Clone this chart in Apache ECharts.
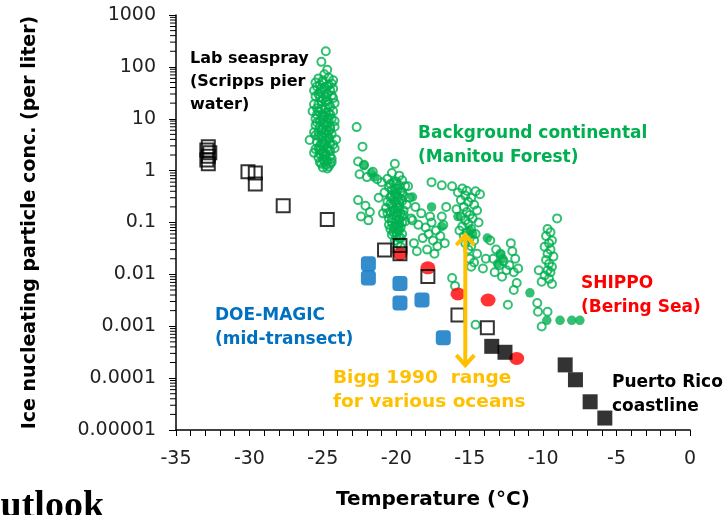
<!DOCTYPE html>
<html><head><meta charset="utf-8">
<script src="https://cdn.jsdelivr.net/npm/echarts@6/dist/echarts.min.js"></script>
<style>html,body{margin:0;padding:0;background:#fff}#c{width:728px;height:515px}</style>
</head><body><div id="c"></div>
<script>
// ---- data ----
const yTickLabels = ['0.00001','0.0001','0.001','0.01','0.1','1','10','100','1000'];
const xTickValues = [-35,-30,-25,-20,-15,-10,-5,0];

// Lab seaspray / open squares
const openSquares = [
  [-32.8,2.9],[-32.9,2.5],[-32.7,2.2],[-32.8,1.9],[-32.9,1.6],[-32.8,1.35],
  [-30.1,0.95],[-29.6,0.9],[-29.6,0.55],[-27.7,0.21],[-24.7,0.114],
  [-20.8,0.0295],[-19.75,0.036],[-19.75,0.025],[-17.85,0.0091],[-15.8,0.00165],[-13.8,0.00094]
];
// Puerto Rico coastline / filled black squares
const filledSquares = [
  [-13.5,0.00041],[-12.6,0.000315],
  [-8.5,0.00018],[-7.8,0.000093],[-6.8,0.000035],[-5.8,0.000017]
];
// DOE-MAGIC (blue)
const doeMagic = [
  [-21.9,0.016],[-21.9,0.0085],[-19.75,0.0067],[-19.75,0.0028],[-18.25,0.0032],[-16.8,0.0006]
];
// SHIPPO (red)
const shippo = [
  [-19.75,0.0247],[-17.85,0.0134],[-15.8,0.0042],[-13.75,0.0032],[-11.8,0.00024]
];
// Background continental (Manitou Forest) hollow circles
const manitouOpen = [
  [-24.8,200],[-25.1,125],[-24.7,88],[-24.9,72],[-25.3,60],[-24.6,62],[-25.0,55],[-24.4,48],[-25.4,42],
  [-24.9,40],[-24.5,35],[-25.2,33],[-24.7,30],[-25.5,27],[-24.3,25],[-25.0,24],[-24.8,21],
  [-25.3,19],[-24.5,17],[-25.1,15],[-24.6,13],[-25.4,12],[-24.9,11],[-24.4,10],[-25.2,9],
  [-24.7,8.5],[-25.5,7.5],[-24.5,7],[-25.0,6.5],[-24.8,6],[-25.3,5.5],[-24.4,5],[-25.1,4.6],
  [-24.6,4.3],[-25.9,3.9],[-25.4,3.6],[-24.9,3.4],[-24.3,3.2],[-25.2,3],[-24.7,2.8],[-25.5,2.6],
  [-24.5,2.4],[-25.0,2.2],[-24.8,2],[-25.3,1.8],[-24.4,1.7],[-24.9,1.5],[-25.1,1.35],[-24.6,1.2],
  [-24.7,1.1],[-24.2,9],[-25.7,14],[-24.1,4],[-25.6,2.2],[-24.2,20],[-25.6,35],[-24.3,55],
  [-25.2,45],[-24.8,16],[-25.0,12],[-24.6,5.8],[-25.2,2.5],[-24.9,1.9],[-25.5,4.8],[-24.4,1.45],
  [-25.0,50],[-24.6,45],[-24.9,36],[-25.3,30],[-24.4,28],[-24.8,26],[-25.1,22],[-24.6,19],
  [-25.4,16],[-24.3,14],[-24.8,13],[-25.1,11],[-24.6,9.5],[-25.4,8.5],[-24.9,8],[-25.2,7],
  [-24.5,6.2],[-24.9,5.2],[-25.3,4.6],[-24.6,4],[-25.0,3.7],[-24.5,3.3],[-24.9,3.0],[-25.3,2.7],
  [-24.6,2.5],[-24.9,2.3],[-25.2,2.1],[-24.5,1.9],[-25.0,1.7],[-24.7,1.55],[-25.2,1.45],
  [-24.8,1.3],[-25.0,1.15],[-24.5,1.35],[-25.5,10],[-24.2,7],[-25.6,5.5],[-24.2,2.7],
  [-25.6,19],[-24.3,38],[-25.5,50],[-24.7,42],[-25.1,38],[-24.7,23],[-25.2,26],[-24.5,12],
  [-25.3,14],[-24.7,10.5],[-25.0,9.5],[-24.8,7.5],[-25.1,6],[-24.7,5],[-24.8,3.8],[-25.1,3.3],
  [-22.7,6.9],[-22.3,2.9],
  [-22.6,1.5],[-22.2,1.3],[-21.6,0.95],[-22.5,0.85],[-22.0,0.75],[-21.3,0.68],
  [-22.6,0.27],[-22.1,0.21],[-21.8,0.16],[-22.4,0.13],[-21.9,0.11],
  [-20.1,1.35],[-20.3,0.9],[-19.8,0.8],[-20.6,0.7],[-19.6,0.65],[-20.2,0.6],[-20.0,0.55],
  [-19.4,0.5],[-20.5,0.48],[-19.9,0.45],[-20.3,0.42],[-19.7,0.4],[-20.8,0.38],[-20.1,0.35],
  [-19.5,0.33],[-20.4,0.31],[-19.9,0.3],[-20.2,0.28],[-19.6,0.26],[-20.6,0.25],[-20.0,0.23],
  [-19.3,0.22],[-20.3,0.21],[-19.8,0.2],[-20.7,0.19],[-20.1,0.18],[-19.5,0.17],[-20.4,0.16],
  [-19.9,0.15],[-20.2,0.14],[-19.6,0.13],[-20.5,0.12],[-20.0,0.11],[-19.4,0.105],[-20.3,0.1],
  [-19.8,0.095],[-20.1,0.085],[-19.7,0.08],[-20.4,0.075],[-19.9,0.07],[-20.2,0.065],
  [-19.6,0.06],[-20.0,0.055],[-19.8,0.05],[-20.1,0.045],[-19.9,0.04],[-19.7,0.034],
  [-20.0,0.62],[-19.8,0.52],[-20.4,0.55],[-20.1,0.44],[-19.6,0.38],[-20.0,0.36],[-20.3,0.33],
  [-19.7,0.29],[-20.1,0.26],[-20.4,0.23],[-19.8,0.24],[-19.9,0.19],[-20.2,0.17],[-19.7,0.15],
  [-20.0,0.135],[-20.3,0.12],[-19.8,0.115],[-19.6,0.1],[-20.0,0.09],[-20.2,0.08],[-19.8,0.072],
  [-20.3,0.058],[-19.7,0.05],[-20.0,0.065],[-19.9,0.085],[-20.5,0.09],[-19.5,0.14],[-20.6,0.15],
  [-21.0,0.6],[-21.2,0.3],[-20.9,0.15],[-19.1,0.3],[-19.0,0.12],[-19.2,0.5],
  [-18.7,0.2],[-18.3,0.15],[-18.9,0.11],[-18.5,0.09],[-18.0,0.08],[-17.6,0.1],[-17.3,0.07],
  [-17.8,0.06],[-18.2,0.05],[-17.5,0.045],[-17.0,0.055],[-16.7,0.04],[-17.2,0.035],[-16.8,0.09],
  [-17.9,0.03],[-18.6,0.028],[-17.4,0.025],[-16.9,0.13],[-16.6,0.2],[-18.8,0.04],[-17.7,0.13],
  [-17.6,0.6],[-16.9,0.52],[-16.2,0.5],[-15.5,0.45],[-15.2,0.41],[-14.6,0.4],[-14.3,0.35],
  [-15.8,0.38],[-15.3,0.33],[-14.9,0.3],[-15.6,0.27],[-15.1,0.25],[-14.7,0.22],[-15.4,0.2],
  [-15.9,0.18],[-14.5,0.17],[-15.2,0.16],[-15.0,0.14],[-15.6,0.13],[-14.8,0.12],[-15.3,0.11],
  [-14.4,0.1],[-15.1,0.095],[-15.5,0.085],[-14.9,0.075],[-15.7,0.07],[-15.2,0.065],[-14.6,0.06],
  [-15.4,0.055],[-15.0,0.05],[-14.7,0.045],[-15.3,0.04],[-14.9,0.035],[-15.1,0.03],[-14.5,0.025],
  [-15.0,0.02],[-14.7,0.017],[-14.9,0.014],[-16.2,0.0085],[-16.0,0.006],[-14.6,0.00107],
  [-13.6,0.045],[-13.2,0.03],[-12.9,0.025],[-13.4,0.02],[-12.7,0.018],[-13.0,0.015],[-12.5,0.012],
  [-13.3,0.011],[-12.8,0.009],[-12.2,0.04],[-12.1,0.028],[-11.9,0.02],[-12.3,0.015],[-11.7,0.013],
  [-12.0,0.011],[-11.8,0.0068],[-12.0,0.005],[-12.4,0.0026],[-13.9,0.02],[-14.1,0.013],
  [-9.05,0.12],[-9.7,0.075],[-9.5,0.065],[-9.8,0.055],[-9.4,0.045],[-9.6,0.04],[-9.9,0.034],
  [-9.5,0.03],[-9.7,0.025],[-9.3,0.022],[-9.8,0.019],[-9.6,0.016],[-9.4,0.014],[-9.7,0.012],
  [-9.5,0.011],[-9.9,0.0095],[-9.6,0.0082],[-10.3,0.012],[-10.1,0.0072],[-9.4,0.0065],
  [-10.4,0.0028],[-10.35,0.0019],[-9.7,0.0019],[-10.1,0.00099]
];
// Background continental filled circles
const manitouFilled = [
  [-22.2,1.25],[-21.7,0.9],[-21.5,0.75],[-18.9,0.31],[-17.6,0.2],[-16.9,0.084],[-15.8,0.13],
  [-15.0,0.07],[-14.8,0.06],[-13.8,0.05],[-12.75,0.02],[-13.1,0.016],[-12.9,0.024],
  [-10.9,0.0044],[-9.75,0.0013],[-8.85,0.0013],[-8.05,0.0013],[-7.5,0.0013]
];
// Bigg 1990 range arrow: [temperature, top, bottom]
const biggRange = [[-15.3, 0.06, 0.00017]];
</script>
<script>
const yMinor = [];
for (let e = -5; e < 3; e++) for (let m = 2; m <= 9; m++) yMinor.push([-35, m * Math.pow(10, e)]);

const chart = echarts.init(document.getElementById('c'), null, {renderer: 'canvas'});
const FONT = '"DejaVu Sans", sans-serif';
const GREEN = '#00B050', BLUE = '#0070C0', RED = '#FF0000', ORANGE = '#FFC000';

function label(text, x, y, color, lh, size) {
  return {type: 'text', left: x, top: y, z: 100,
    style: {text: text, fill: color, font: 'bold ' + (size || 17) + 'px ' + FONT, lineHeight: lh || 24}};
}

chart.setOption({
  animation: false,
  backgroundColor: '#ffffff',
  grid: {left: 176, right: 38, top: 15, bottom: 78},
  xAxis: {
    type: 'value', min: -35, max: 0, interval: 5,
    name: 'Temperature (°C)', nameLocation: 'middle', nameGap: 60,
    nameTextStyle: {fontFamily: FONT, fontWeight: 'bold', fontSize: 20, color: '#000'},
    axisLine: {onZero: false, lineStyle: {color: '#000', width: 1.5}},
    axisTick: {length: 6, lineStyle: {color: '#000', width: 1}},
    minorTick: {show: true, splitNumber: 5, length: 6, lineStyle: {color: '#000', width: 1}},
    axisLabel: {margin: 20, fontFamily: FONT, fontSize: 19, color: '#222'},
    splitLine: {show: false}
  },
  yAxis: {
    type: 'log', logBase: 10, min: 0.00001, max: 1000, splitNumber: 8,
    name: 'Ice nucleating particle conc. (per liter)', nameLocation: 'middle', nameGap: 136,
    nameTextStyle: {fontFamily: FONT, fontWeight: 'bold', fontSize: 19, color: '#000'},
    axisLine: {show: true, onZero: false, lineStyle: {color: '#000', width: 1.5}},
    axisTick: {show: true, length: 7, lineStyle: {color: '#000', width: 1}},
    axisLabel: {margin: 20, fontFamily: FONT, fontSize: 19, color: '#222',
      formatter: v => yTickLabels[Math.round(Math.log10(v)) + 5]},
    splitLine: {show: false}
  },
  series: [
    {type: 'custom', silent: true, clip: false, z: 1, data: yMinor,
      renderItem: (params, api) => {
        const p = api.coord([api.value(0), api.value(1)]);
        return {type: 'line', shape: {x1: p[0] - 6, y1: p[1], x2: p[0], y2: p[1]},
          style: {stroke: '#000', lineWidth: 1}};
      }},
    {type: 'scatter', data: manitouOpen, symbol: 'circle', symbolSize: 8, z: 2,
      itemStyle: {color: 'rgba(255,255,255,0)', borderColor: GREEN, borderWidth: 2}},
    {type: 'scatter', data: manitouFilled, symbol: 'circle', symbolSize: 9.5, z: 3,
      itemStyle: {color: GREEN}},
    {type: 'scatter', data: doeMagic, symbol: 'roundRect', symbolSize: 15, z: 4,
      itemStyle: {color: BLUE}},
    {type: 'scatter', data: shippo, symbol: 'circle', symbolSize: [15, 13], z: 4,
      itemStyle: {color: RED}},
    {type: 'scatter', data: openSquares, symbol: 'rect', symbolSize: 13, z: 5,
      itemStyle: {color: 'rgba(255,255,255,0)', borderColor: '#000', borderWidth: 2}},
    {type: 'scatter', data: filledSquares, symbol: 'rect', symbolSize: 15, z: 5,
      itemStyle: {color: '#000'}},
    {type: 'custom', silent: true, clip: false, z: 10, data: biggRange,
      encode: {x: 0, y: [1, 2]},
      renderItem: (params, api) => {
        const a = api.coord([api.value(0), api.value(1)]);
        const b = api.coord([api.value(0), api.value(2)]);
        const st = {stroke: ORANGE, lineWidth: 4, fill: null, lineCap: 'butt', lineJoin: 'miter'};
        return {type: 'group', children: [
          {type: 'line', shape: {x1: a[0], y1: a[1] + 2, x2: b[0], y2: b[1] - 2}, style: st},
          {type: 'polyline', shape: {points: [[a[0] - 9, a[1] + 11], [a[0], a[1] + 1], [a[0] + 9, a[1] + 11]]}, style: st},
          {type: 'polyline', shape: {points: [[b[0] - 9, b[1] - 11], [b[0], b[1] - 1], [b[0] + 9, b[1] - 11]]}, style: st}
        ]};
      }}
  ],
  graphic: [
    label('Lab seaspray\n(Scripps pier\nwater)', 190, 47, '#000', 23, 16),
    label('Background continental\n(Manitou Forest)', 418, 122, GREEN),
    label('SHIPPO\n(Bering Sea)', 581, 272, RED),
    label('DOE-MAGIC\n(mid-transect)', 215, 304, BLUE),
    label('Bigg 1990  range\nfor various oceans', 333, 366, ORANGE, 24, 18.5),
    label('Puerto Rico\ncoastline', 612, 371, '#000'),
    {type: 'text', left: -29, top: 488, z: 100,
      style: {text: 'Outlook', fill: '#000', font: 'bold 38px "Liberation Serif", serif'}}
  ]
});
</script>
</body></html>
